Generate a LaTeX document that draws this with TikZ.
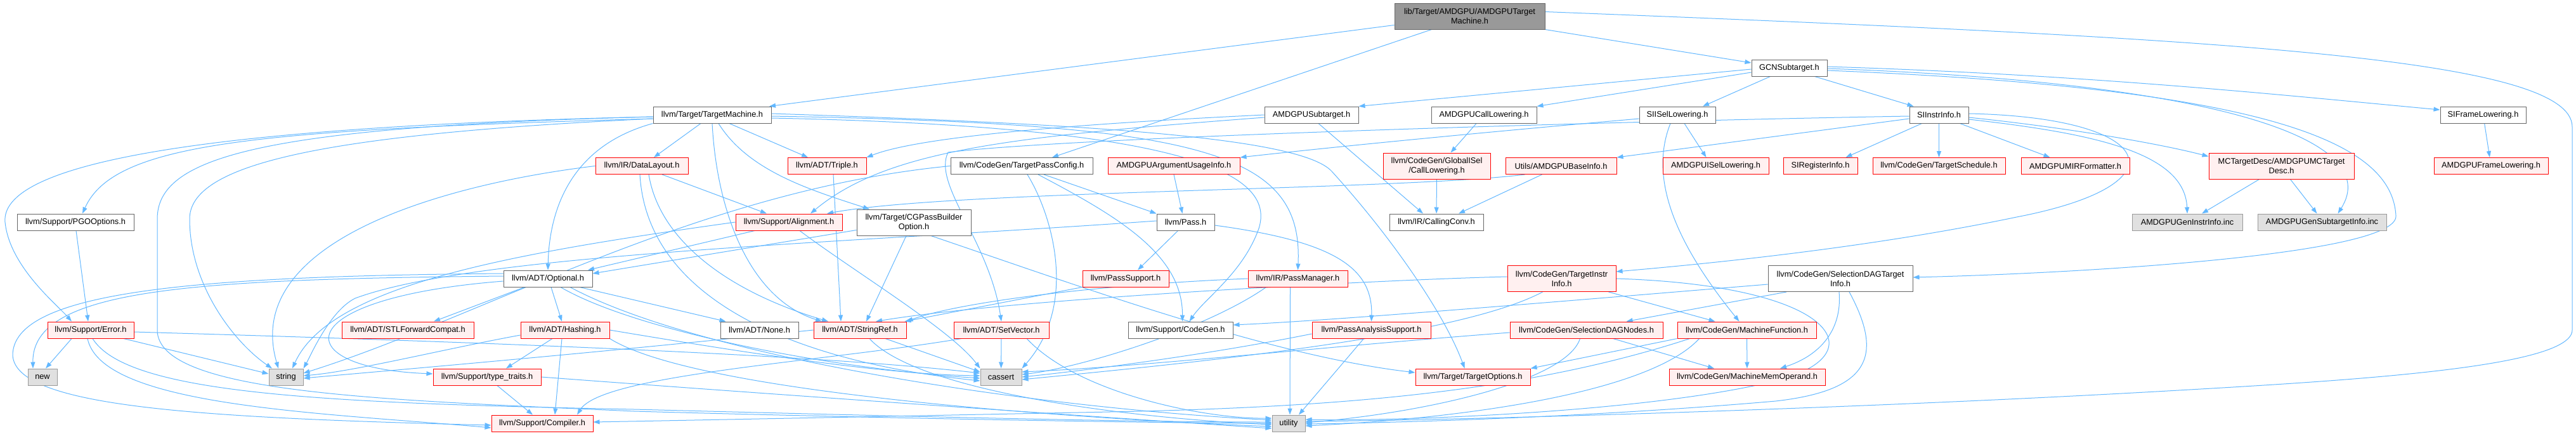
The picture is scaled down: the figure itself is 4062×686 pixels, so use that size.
\documentclass[tikz,border=0pt]{standalone}
\usepackage{fontspec}
\setmainfont{Liberation Sans}
\usetikzlibrary{arrows.meta}
\definecolor{eblue}{HTML}{63B8FF}
\definecolor{nodegray}{HTML}{666666}
\definecolor{nodered}{HTML}{FF0000}
\definecolor{nodepink}{HTML}{FFF0F0}
\definecolor{extgray}{HTML}{999999}
\definecolor{extfill}{HTML}{E0E0E0}
\definecolor{rootfill}{HTML}{999999}
\pgfdeclarelayer{bg}
\pgfsetlayers{bg,main}
\begin{document}
\begin{tikzpicture}[x=1pt,y=-1pt,
  every node/.style={font=\fontsize{12.8}{15}\selectfont},
  nb/.style={draw=nodegray, fill=white, line width=1pt, inner sep=0pt, minimum height=26pt, align=center},
  nr/.style={nb, draw=nodered, fill=nodepink},
  nx/.style={nb, draw=extgray, fill=extfill},
  nroot/.style={nb, fill=rootfill},
  e/.style={draw=eblue, line width=1pt, -{Triangle[length=10pt,width=7pt]}}]
\useasboundingbox (0,0) rectangle (4062,686);
% ---------- nodes ----------
\node[nroot, minimum width=237pt, minimum height=41pt] (root) at (2317.5,25.5) {lib/Target/AMDGPU/AMDGPUTarget\\Machine.h};
\node[nb, minimum width=119pt] (GCN) at (2821.5,107) {GCNSubtarget.h};
\node[nb, minimum width=186pt] (TM) at (1123,181) {llvm/Target/TargetMachine.h};
\node[nb, minimum width=148pt] (ASub) at (2068,181) {AMDGPUSubtarget.h};
\node[nb, minimum width=166pt] (ACL) at (2340,181) {AMDGPUCallLowering.h};
\node[nb, minimum width=120pt] (SIISel) at (2645,181) {SIISelLowering.h};
\node[nb, minimum width=93pt] (SIInstr) at (3057.5,181) {SIInstrInfo.h};
\node[nb, minimum width=135pt] (SIFrame) at (3915.5,181) {SIFrameLowering.h};
\node[nr, minimum width=146pt] (DL) at (1012,261.5) {llvm/IR/DataLayout.h};
\node[nr, minimum width=124pt] (Triple) at (1304,261.5) {llvm/ADT/Triple.h};
\node[nb, minimum width=224pt] (TPC) at (1611,261.5) {llvm/CodeGen/TargetPassConfig.h};
\node[nr, minimum width=208pt] (ArgU) at (1851,261.5) {AMDGPUArgumentUsageInfo.h};
\node[nr, minimum width=169pt, minimum height=41pt] (GCL) at (2265.5,261.5) {llvm/CodeGen/GlobalISel\\/CallLowering.h};
\node[nr, minimum width=175pt] (BaseInfo) at (2461.5,261.5) {Utils/AMDGPUBaseInfo.h};
\node[nr, minimum width=167pt] (AISel) at (2705.5,261.5) {AMDGPUISelLowering.h};
\node[nr, minimum width=117pt] (SIReg) at (2870.5,261.5) {SIRegisterInfo.h};
\node[nr, minimum width=209pt] (TSched) at (3057.5,261.5) {llvm/CodeGen/TargetSchedule.h};
\node[nr, minimum width=171pt] (MIRF) at (3272.5,261.5) {AMDGPUMIRFormatter.h};
\node[nr, minimum width=229pt, minimum height=41pt] (MCTD) at (3597.5,261.5) {MCTargetDesc/AMDGPUMCTarget\\Desc.h};
\node[nr, minimum width=180pt] (AFrame) at (3928,261.5) {AMDGPUFrameLowering.h};
\node[nb, minimum width=184pt] (PGO) at (119,350) {llvm/Support/PGOOptions.h};
\node[nr, minimum width=168pt] (Align) at (1244,350) {llvm/Support/Alignment.h};
\node[nb, minimum width=180pt, minimum height=41pt] (CGPB) at (1441,350.5) {llvm/Target/CGPassBuilder\\Option.h};
\node[nb, minimum width=91pt] (Pass) at (1869.5,350) {llvm/Pass.h};
\node[nb, minimum width=148pt] (CConv) at (2265,350) {llvm/IR/CallingConv.h};
\node[nx, minimum width=174pt] (GenII) at (3449,350) {AMDGPUGenInstrInfo.inc};
\node[nx, minimum width=203pt] (GenST) at (3661.5,350) {AMDGPUGenSubtargetInfo.inc};
\node[nb, minimum width=140pt] (Opt) at (864,439) {llvm/ADT/Optional.h};
\node[nr, minimum width=136pt] (PSup) at (1775,439) {llvm/PassSupport.h};
\node[nr, minimum width=157pt] (PMgr) at (2046.5,439) {llvm/IR/PassManager.h};
\node[nr, minimum width=171pt, minimum height=41pt] (TII) at (2462.5,439) {llvm/CodeGen/TargetInstr\\Info.h};
\node[nb, minimum width=228pt, minimum height=41pt] (SDTI) at (2902,439) {llvm/CodeGen/SelectionDAGTarget\\Info.h};
\node[nr, minimum width=136pt] (Err) at (143,520) {llvm/Support/Error.h};
\node[nr, minimum width=208pt] (STLFC) at (643,520) {llvm/ADT/STLForwardCompat.h};
\node[nr, minimum width=140pt] (Hash) at (891,520) {llvm/ADT/Hashing.h};
\node[nb, minimum width=123pt] (None) at (1197.5,520) {llvm/ADT/None.h};
\node[nr, minimum width=146pt] (SRef) at (1356,520) {llvm/ADT/StringRef.h};
\node[nr, minimum width=150pt] (SetV) at (1579,520) {llvm/ADT/SetVector.h};
\node[nb, minimum width=165pt] (CG) at (1861.5,520) {llvm/Support/CodeGen.h};
\node[nr, minimum width=187pt] (PAS) at (2162.5,520) {llvm/PassAnalysisSupport.h};
\node[nr, minimum width=241pt] (SDN) at (2501.5,520) {llvm/CodeGen/SelectionDAGNodes.h};
\node[nr, minimum width=219pt] (MF) at (2754.5,520) {llvm/CodeGen/MachineFunction.h};
\node[nx, minimum width=46pt] (new) at (67,594) {new};
\node[nx, minimum width=54pt] (string) at (451,594) {string};
\node[nr, minimum width=170pt] (TT) at (768,594) {llvm/Support/type\_traits.h};
\node[nx, minimum width=65pt] (cassert) at (1578.5,594) {cassert};
\node[nr, minimum width=181pt] (TOpt) at (2322.5,594) {llvm/Target/TargetOptions.h};
\node[nr, minimum width=246pt] (MMO) at (2755,594) {llvm/CodeGen/MachineMemOperand.h};
\node[nr, minimum width=160pt] (Comp) at (855,667) {llvm/Support/Compiler.h};
\node[nx, minimum width=52pt] (util) at (2032,667) {utility};
% ---------- edges ----------
\begin{pgfonlayer}{bg}
\fill[white] (0,0) rectangle (4062,686);
% root
\draw[e] ([yshift=-14pt]root.west) -- ([xshift=90pt]TM.north);
\draw[e] ([xshift=-60pt]root.south) -- ([xshift=48pt]TPC.north);
\draw[e] (root.south east) -- ([yshift=8pt]GCN.west);
\draw[e] ([yshift=7pt]root.east) .. controls (3500,60) and (4056,90) .. (4056,200) -- (4056,520) .. controls (4056,580) and (3700,600) .. (3400,617) .. controls (2900,645) and (2300,662) .. ([yshift=3pt]util.east);
% GCN
\draw[e] ([yshift=-2pt]GCN.west) -- (ASub.north east);
\draw[e] ([yshift=-7pt]GCN.west) -- (ACL.north east);
\draw[e] ([xshift=-30pt]GCN.south) -- ([xshift=40pt]SIISel.north);
\draw[e] ([xshift=40pt]GCN.south) -- ([xshift=-40pt]SIInstr.north);
\draw[e] ([yshift=2pt]GCN.east) .. controls (3300,118) and (3600,150) .. ([yshift=8pt]SIFrame.west);
\draw[e] ([yshift=-1pt]GCN.east) .. controls (3500,130) and (3760,220) .. ([xshift=25pt]GenST.north);
\draw[e] ([yshift=-4pt]GCN.east) .. controls (3600,140) and (3772,230) .. (3778,340) .. controls (3782,400) and (3300,430) .. ([yshift=2pt]SDTI.east);
% TargetMachine
\draw[e] (TM.south west) .. controls (900,230) and (866,330) .. (Opt.north);
\draw[e] ([xshift=-18pt]TM.south) -- ([xshift=19pt]DL.north);
\draw[e] ([xshift=27pt]TM.south) -- ([xshift=-30pt]Triple.north);
\draw[e] (TM.south) .. controls (1130,330) and (1180,470) .. ([xshift=-60pt]SRef.north);
\draw[e] ([xshift=10pt]TM.south) .. controls (1180,270) and (1280,300) .. ([xshift=-70pt]CGPB.north);
\draw[e] ([yshift=-2pt]TM.east) .. controls (1900,195) and (2055,240) .. (PMgr.north);
\draw[e] ([yshift=-5pt]TM.east) .. controls (1900,200) and (2010,280) .. (1985,360) .. controls (1960,430) and (1900,470) .. ([xshift=14pt]CG.north);
\draw[e] ([yshift=2pt]TM.east) .. controls (1700,195) and (2050,215) .. (2100,270) .. controls (2200,380) and (2280,500) .. ([xshift=-13pt]TOpt.north);
\draw[e] ([yshift=-3pt]TM.west) .. controls (300,200) and (0,260) .. (8,350) .. controls (15,420) and (90,480) .. ([xshift=-30pt]Err.north);
\draw[e] ([yshift=-6pt]TM.west) .. controls (400,205) and (180,225) .. ([xshift=11pt]PGO.north);
\draw[e] ([yshift=-6pt]TM.west) .. controls (500,212) and (299,260) .. (299,345) .. controls (299,450) and (370,540) .. ([xshift=-22pt]string.north);
\draw[e] ([yshift=-3pt]TM.west) .. controls (400,200) and (248,250) .. (248,345) -- (248,520) .. controls (248,620) and (600,630) .. (1000,648) .. controls (1500,662) and (1900,667) .. (util.west);
% AMDGPUSubtarget
\draw[e] (ASub.west) .. controls (1700,195) and (1450,215) .. (Triple.north east);
\draw[e] ([yshift=-4pt]ASub.west) .. controls (1600,215) and (1400,235) .. ([xshift=34pt]Align.north);
\draw[e] ([xshift=11pt]ASub.south) -- ([xshift=-21pt]CConv.north);
% AMDGPUCallLowering
\draw[e] ([xshift=-12pt]ACL.south) -- ([xshift=22pt]GCL.north);
\draw[e] (GCL) -- (CConv);
% SIISelLowering
\draw[e] ([yshift=-6pt]SIISel.west) .. controls (2300,212) and (2100,232) .. (ArgU.north east);
\draw[e] ([xshift=11pt]SIISel.south) -- ([xshift=-15pt]AISel.north);
\draw[e] ([xshift=-11pt]SIISel.south) .. controls (2600,280) and (2640,380) .. ([xshift=-12pt]MF.north);
% SIInstrInfo
\draw[e] ([yshift=-6pt]SIInstr.west) -- (BaseInfo.north east);
\draw[e] ([yshift=-2pt]SIInstr.west) .. controls (2600,190) and (1700,215) .. (1495,240) .. controls (1470,290) and (1560,380) .. (SetV.north);
\draw[e] ([xshift=-27pt]SIInstr.south) -- ([xshift=40pt]SIReg.north);
\draw[e] (SIInstr) -- (TSched);
\draw[e] ([xshift=33pt]SIInstr.south) -- ([xshift=-40pt]MIRF.north);
\draw[e] ([yshift=-4pt]SIInstr.east) .. controls (3250,200) and (3400,225) .. ([yshift=-6pt]MCTD.north west);
\draw[e] ([yshift=-7pt]SIInstr.east) .. controls (3300,210) and (3445,240) .. (GenII.north);
\draw[e] ([yshift=2pt]SIInstr.east) .. controls (3400,185) and (3450,290) .. (3180,342) .. controls (2950,390) and (2700,415) .. ([yshift=11pt]TII.east);
% SIFrameLowering
\draw[e] (SIFrame) -- (AFrame);
% AMDGPUBaseInfo
\draw[e] ([xshift=-30pt]BaseInfo.south) -- ([xshift=35pt]CConv.north);
\draw[e] ([xshift=-57pt]BaseInfo.south) .. controls (2200,300) and (1500,300) .. ([xshift=60pt]Align.north);
% MCTargetDesc
\draw[e] ([xshift=-35pt]MCTD.south) -- ([xshift=23pt]GenII.north);
\draw[e] ([xshift=14pt]MCTD.south) -- ([xshift=-8pt]GenST.north);
% ArgumentUsageInfo
\draw[e] (ArgU.south) -- ([xshift=-5pt]Pass.north);
% TargetPassConfig
\draw[e] ([xshift=35pt]TPC.south) -- (Pass.north west);
\draw[e] ([xshift=26pt]TPC.south) .. controls (1760,340) and (1865,400) .. ([xshift=3pt]CG.north);
\draw[e] ([xshift=9pt]TPC.south) .. controls (1660,340) and (1700,480) .. (cassert.north east);
\draw[e] (TPC.west) .. controls (1100,300) and (760,500) .. ([yshift=6pt]string.east);
% DataLayout
\draw[e] ([xshift=32pt]DL.south) -- ([xshift=-35pt]Align.north);
\draw[e] ([xshift=11pt]DL.south) .. controls (1040,380) and (1150,460) .. ([xshift=-50pt]SRef.north);
\draw[e] (DL.west) .. controls (700,290) and (380,380) .. ([xshift=-12pt]string.north);
\draw[e] ([xshift=-3pt]DL.south) .. controls (1020,470) and (1250,570) .. ([yshift=-6pt]cassert.west);
% Triple
\draw[e] ([xshift=10pt]Triple.south) -- ([xshift=-30pt]SRef.north);
% CGPassBuilderOption
\draw[e] ([yshift=-12pt]CGPB.west) -- ([yshift=8pt]Opt.east);
\draw[e] ([xshift=-12pt]CGPB.south) -- ([xshift=10pt]SRef.north);
\draw[e] ([xshift=27pt]CGPB.south) .. controls (1700,450) and (2000,560) .. ([yshift=7pt]TOpt.west);
% Alignment
\draw[e] ([xshift=-54pt]Align.south) -- ([xshift=63pt]Opt.north);
\draw[e] ([xshift=17pt]Align.south) .. controls (1350,430) and (1500,520) .. (cassert.north west);
\draw[e] (Align.west) .. controls (800,400) and (520,450) .. ([xshift=10pt]string.north);
% Optional
\draw[e] ([xshift=-37pt]Opt.south) -- ([xshift=41pt]STLFC.north);
\draw[e] ([xshift=5pt]Opt.south) -- ([xshift=-5pt]Hash.north);
\draw[e] ([xshift=50pt]Opt.south) -- ([xshift=-53pt]None.north);
\draw[e] ([yshift=4pt]Opt.west) .. controls (300,440) and (50,455) .. ([xshift=-15pt]new.north);
\draw[e] ([yshift=-4pt]Opt.west) .. controls (450,470) and (450,580) .. ([yshift=5pt]TT.west);
\draw[e] ([yshift=8pt]Opt.west) .. controls (300,435) and (20,460) .. (20,560) .. controls (25,640) and (300,658) .. ([yshift=-3pt]Comp.west);
\draw[e] ([xshift=20pt]Opt.south) .. controls (1000,520) and (1300,580) .. ([yshift=-2pt]cassert.west);
\draw[e] ([xshift=35pt]Opt.south) .. controls (1100,560) and (1600,640) .. ([yshift=5pt]util.west);
% Hashing
\draw[e] ([xshift=-20pt]Hash.south) -- ([xshift=30pt]TT.north);
\draw[e] ([xshift=-5pt]Hash.south) -- ([xshift=20pt]Comp.north);
\draw[e] ([yshift=-8pt]Hash.west) .. controls (700,550) and (560,585) .. ([yshift=2pt]string.east);
\draw[e] (Hash.east) .. controls (1200,560) and (1400,590) .. ([yshift=2pt]cassert.west);
\draw[e] (Hash.south east) .. controls (1100,620) and (1700,660) .. ([yshift=-5pt]util.west);
% Error
\draw[e] ([xshift=-30pt]Err.south) -- ([xshift=5pt]new.north);
\draw[e] ([xshift=52pt]Err.south) -- ([yshift=5pt]string.west);
\draw[e] ([yshift=-3pt]Err.east) .. controls (800,540) and (1300,560) .. ([yshift=6pt]cassert.west);
\draw[e] ([xshift=-5pt]Err.south) .. controls (160,640) and (500,650) .. ([yshift=-7pt]Comp.west);
\draw[e] ([xshift=3pt]Err.south) .. controls (200,620) and (500,635) .. (1000,645) .. controls (1500,658) and (1800,665) .. ([yshift=2pt]util.west);
% PGOOptions
\draw[e] ([xshift=1pt]PGO.south) -- ([xshift=-4pt]Err.north);
% StringRef
\draw[e] ([xshift=40pt]SRef.south) -- ([yshift=8pt]cassert.west);
\draw[e] ([xshift=15pt]SRef.south) .. controls (1450,620) and (1800,660) .. ([yshift=-2pt]util.west);
\draw[e] (SRef.west) .. controls (900,560) and (600,585) .. ([yshift=-2pt]string.east);
% type_traits
\draw[e] ([xshift=16pt]TT.south) -- ([xshift=-15pt]Comp.north);
\draw[e] (TT.east) .. controls (1200,620) and (1700,655) .. ([yshift=-8pt]util.west);
% SetVector
\draw[e] (SetV) -- (cassert);
\draw[e] ([xshift=-63pt]SetV.south) .. controls (1300,570) and (950,590) .. ([xshift=55pt]Comp.north);
\draw[e] ([xshift=40pt]SetV.south) .. controls (1700,620) and (1900,660) .. ([yshift=8pt]util.west);
% Pass
\draw[e] ([xshift=-12pt]Pass.south) -- ([xshift=19pt]PSup.north);
\draw[e] ([yshift=-5pt]Pass.east) .. controls (2100,380) and (2165,420) .. (PAS.north);
\draw[e] ([yshift=2pt]Pass.west) .. controls (1300,385) and (750,400) .. (560,470) .. controls (520,490) and (490,560) .. (string.north east);
% PassSupport
\draw[e] (PSup.south west) -- ([xshift=-3pt]SRef.north east);
% PassManager
\draw[e] (PMgr.west) .. controls (1700,450) and (1500,480) .. (SRef.north east);
\draw[e] ([xshift=-50pt]PMgr.south) .. controls (1900,520) and (1700,580) .. ([yshift=4pt]cassert.east);
\draw[e] ([xshift=-12pt]PMgr.south) -- ([xshift=2pt]util.north);
% PassAnalysisSupport
\draw[e] ([xshift=-12pt]PAS.south) -- ([xshift=16pt]util.north);
\draw[e] ([yshift=-6pt]PAS.west) .. controls (1900,560) and (1700,585) .. ([yshift=0pt]cassert.east);
% TargetInstrInfo
\draw[e] ([xshift=74pt]TII.south) -- ([xshift=-50pt]MF.north);
\draw[e] ([yshift=3pt]TII.west) .. controls (2200,440) and (1600,470) .. ([xshift=25pt]SRef.north);
\draw[e] ([xshift=-30pt]TII.south) .. controls (2300,530) and (1900,570) .. ([yshift=-4pt]cassert.east);
\draw[e] (TII.east) .. controls (2900,450) and (2960,560) .. (2800,600) .. controls (2600,650) and (2200,664) .. ([yshift=6pt]util.east);
% SelectionDAGTargetInfo
\draw[e] ([yshift=-9pt]SDTI.west) .. controls (2400,480) and (2100,505) .. ([yshift=8pt]CG.east);
\draw[e] ([xshift=-85pt]SDTI.south) -- ([xshift=63pt]SDN.north);
\draw[e] ([xshift=-2pt]SDTI.south) .. controls (2905,520) and (2870,560) .. ([xshift=52pt]MMO.north);
\draw[e] ([xshift=14pt]SDTI.south) .. controls (2970,560) and (2950,615) .. (2800,632) .. controls (2500,658) and (2200,666) .. ([yshift=-1pt]util.east);
% SelectionDAGNodes
\draw[e] ([xshift=42pt]SDN.south) -- ([xshift=-52pt]MMO.north);
\draw[e] ([xshift=-10pt]SDN.south) .. controls (2470,600) and (2250,650) .. ([yshift=1pt]util.east);
\draw[e] ([yshift=-4pt]SDN.west) .. controls (2100,545) and (1800,578) .. ([yshift=8pt]cassert.east);
% MachineFunction
\draw[e] (MF) -- (MMO);
\draw[e] (MF.south west) -- (TOpt.north east);
\draw[e] ([xshift=-75pt]MF.south) .. controls (2600,620) and (2300,660) .. ([yshift=-4pt]util.east);
\draw[e] ([xshift=-90pt]MF.south) .. controls (2400,620) and (2100,640) .. (1800,648) .. controls (1400,656) and (1100,662) .. ([yshift=2pt]Comp.east);
\end{pgfonlayer}
\end{tikzpicture}
\end{document}
